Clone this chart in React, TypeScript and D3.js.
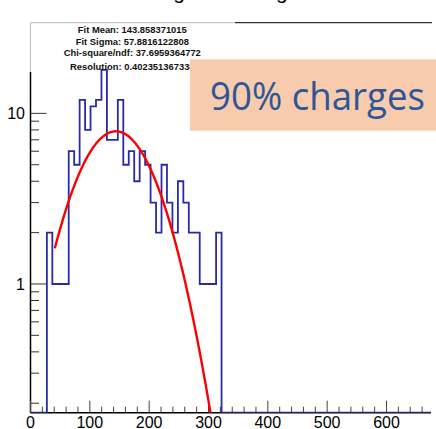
import React from "react";
import * as d3 from "d3";

// ---- data ----
const X_DOMAIN: [number, number] = [0, 675];
const Y_DOMAIN: [number, number] = [0.176, 34];
const BIN_WIDTH = 9.2;
// counts per bin starting at 0, bin width BIN_WIDTH
const binCounts = [0, 0, 0, 2, 1, 1, 1, 6, 5, 12, 8, 11, 12, 18, 7, 7, 12, 5, 6, 4, 6, 5, 3, 2, 5, 3, 2, 4, 3, 2, 2, 1, 1, 1, 2];

const fitMean = 143.858371015;
const fitSigma = 57.8816122808;
const fitAmplitude = 7.85;
const fitRange: [number, number] = [41, 330];

const xMajorTicks = [0, 100, 200, 300, 400, 500, 600];
const xMinorTicks = d3.range(20, 680, 20).filter((v) => v % 100 !== 0);
const yMajorTicks = [1, 10];
const yMinorTicks = [0.2, 0.3, 0.4, 0.5, 0.6, 0.7, 0.8, 0.9, 2, 3, 4, 5, 6, 7, 8, 9];

const infoLines = [
  "Fit Mean: 143.858371015",
  "Fit Sigma: 57.8816122808",
  "Chi-square/ndf: 37.6959364772",
  "Resolution: 0.402351367338",
];
const titleText = "Highest Charge";
const overlayText = "90% charges";

export default function App() {
  const W = 436;
  const H = 429;
  const left = 30.5;
  const right = 431;
  const top = 22.7;
  const bottom = 412.7;
  const axisTop = 72;

  const x = d3.scaleLinear().domain(X_DOMAIN).range([left, right]);
  const y = d3.scaleLog().domain(Y_DOMAIN).range([bottom, top]);

  // histogram step path
  const nBins = Math.ceil((X_DOMAIN[1] - X_DOMAIN[0]) / BIN_WIDTH);
  const pts: [number, number][] = [];
  for (let i = 0; i < nBins; i++) {
    const lo = X_DOMAIN[0] + i * BIN_WIDTH;
    const hi = Math.min(lo + BIN_WIDTH, X_DOMAIN[1]);
    const c = binCounts[i] ?? 0;
    const yy = c > 0 ? y(c) : bottom;
    pts.push([x(lo), yy]);
    pts.push([x(hi), yy]);
  }
  const histPath = d3.line()(pts) || "";

  // fit curve
  const fitPts: [number, number][] = d3
    .range(fitRange[0], fitRange[1], 0.5)
    .map((v) => [v, fitAmplitude * Math.exp(-0.5 * ((v - fitMean) / fitSigma) ** 2)] as [number, number])
    .filter((p) => p[1] > 0.05);
  const fitPath =
    d3
      .line<[number, number]>()
      .x((d) => x(d[0]))
      .y((d) => y(d[1]))(fitPts) || "";

  const infoY = [29.3, 41.3, 52.7, 66.7];

  return (
    <svg
      width={W}
      height={H}
      style={{ position: "absolute", left: 0, top: 0, display: "block", background: "#fff" }}
    >
      <defs>
        <clipPath id="frame">
          <rect x={left} y={top} width={right - left} height={bottom - top} />
        </clipPath>
      </defs>
      <rect x={0} y={0} width={W} height={H} fill="#fff" />

      {/* title (mostly cut off) */}
      <text
        x={226.5}
        y={-1.5}
        textAnchor="middle"
        fontFamily="Liberation Sans, Arial, sans-serif"
        fontSize={21}
        fill="#000"
      >
        {titleText}
      </text>

      {/* frame top / box */}
      <line x1={left} x2={235} y1={top} y2={top} stroke="#bbb" strokeWidth={1} />
      <line x1={235} x2={right + 1} y1={top} y2={top} stroke="#333" strokeWidth={1.3} />
      <line x1={left} x2={left} y1={top} y2={axisTop} stroke="#bbb" strokeWidth={1} />

      {/* y axis */}
      <line x1={left} x2={left} y1={axisTop} y2={bottom} stroke="#000" strokeWidth={1.5} />
      {yMinorTicks.map((v) => (
        <line key={"ym" + v} x1={left} x2={left + 8.5} y1={y(v)} y2={y(v)} stroke="#333" strokeWidth={1} />
      ))}
      {yMajorTicks.map((v) => (
        <g key={"yM" + v}>
          <line x1={left} x2={left + 16} y1={y(v)} y2={y(v)} stroke="#333" strokeWidth={1} />
          <text
            x={25}
            y={y(v)}
            dy="0.36em"
            textAnchor="end"
            fontFamily="Liberation Sans, Arial, sans-serif"
            fontSize={16}
            fill="#000"
          >
            {String(v)}
          </text>
        </g>
      ))}

      {/* x axis */}
      <line x1={left} x2={right} y1={bottom} y2={bottom} stroke="#000" strokeWidth={1.5} />
      {xMinorTicks.map((v) => (
        <line key={"xm" + v} x1={x(v)} x2={x(v)} y1={bottom} y2={bottom - 6} stroke="#444" strokeWidth={1} />
      ))}
      {xMajorTicks.map((v) => (
        <g key={"xM" + v}>
          <line x1={x(v)} x2={x(v)} y1={bottom} y2={bottom - 12} stroke="#444" strokeWidth={1} />
          <text
            x={x(v)}
            y={422.7}
            dy="0.36em"
            textAnchor="middle"
            fontFamily="Liberation Sans, Arial, sans-serif"
            fontSize={16}
            fill="#000"
          >
            {String(v)}
          </text>
        </g>
      ))}

      {/* histogram */}
      <g clipPath="url(#frame)">
        <path d={histPath} fill="none" stroke="#2a2aa8" strokeWidth={1.8} />
        <path d={fitPath} fill="none" stroke="#ff0000" strokeWidth={2.4} />
      </g>

      {/* fit info */}
      {infoLines.map((t, i) => (
        <text
          key={t}
          x={132.3}
          y={infoY[i]}
          dy="0.35em"
          textAnchor="middle"
          fontFamily="Liberation Sans, Arial, sans-serif"
          fontWeight="bold"
          fontSize={9.4}
          fill="#111"
        >
          {t}
        </text>
      ))}

      {/* overlay label */}
      <rect x={190} y={59.3} width={W - 190} height={130.7 - 59.3} fill="#f7cbac" />
      <text
        x={210}
        y={110}
        fontFamily="Open Sans, Lato, sans-serif"
        fontSize={39}
        fill="#2f5597"
        textLength={215}
        lengthAdjust="spacingAndGlyphs"
      >
        {overlayText}
      </text>
    </svg>
  );
}
